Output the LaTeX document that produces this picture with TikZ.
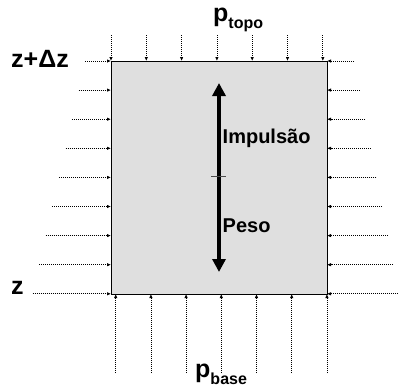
\documentclass[tikz,border=0pt]{standalone}
\usepackage{fontspec}
\setmainfont{Liberation Sans}
\usetikzlibrary{arrows.meta}

\begin{document}
\begin{tikzpicture}[x = 1pt, y = -1pt,
    press/.style = {line width=0.8pt, dash pattern=on 1pt off 1pt, -{Latex[length=4pt, width=3.5pt]}},
    force/.style = {line width=4pt, {Triangle[length=13pt, width=13pt]}-{Triangle[length=13pt, width=13pt]}},
    lbl/.style = {font=\bfseries\fontsize{20}{24}\selectfont, inner sep=0pt, anchor=base west},
    big/.style = {font=\bfseries\fontsize{25}{30}\selectfont, inner sep=0pt, anchor=base west}]
    \useasboundingbox (0, 0) rectangle (398, 389);
    \node[draw, fill=gray!25, line width=1pt, minimum width=216pt, minimum height=233pt,
        anchor=north west, inner sep=0pt] (vol) at (111, 61) {};
    % pressure on the faces
    \foreach \k in {0,...,6} {
        \draw[press] (111+35.3*\k, 35) -- (111+35.3*\k, 61);
        \draw[press] (115.7+35.2*\k, 373) -- (115.7+35.2*\k, 294);
    }
    \foreach \k in {0,...,8} {
        \draw[press] (85.3-6.6*\k, 61+29.1*\k) -- (111, 61+29.1*\k);
        \draw[press] ({min(354+5.6*\k, 398)}, 61+29.1*\k) -- (327, 61+29.1*\k);
    }
    % forces
    \coordinate (up) at (219, 83);
    \coordinate (down) at (219, 272);
    \draw[force] (up) -- (down);
    \draw[gray!60!black, line width=1.5pt] (211, 176.7) -- (226, 176.7);
    \node[lbl] (imp) at (222.5, 143) {Impulsão};
    \node[lbl] (peso) at (222.5, 232) {Peso};
    % levels
    \node[big] (ztop) at (11, 67) {z+Δz};
    \node[big] (zbot) at (11, 294) {z};
    \node[big] (ptopo) at (213, 21) {p\raisebox{-7pt}{\fontsize{16}{19}\selectfont topo}};
    \node[big] (pbase) at (195, 377) {p\raisebox{-7pt}{\fontsize{16}{19}\selectfont base}};
\end{tikzpicture}
\end{document}
